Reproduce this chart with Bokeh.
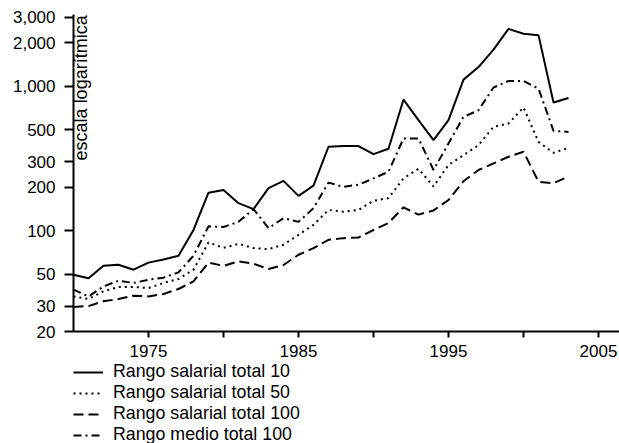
import math
from bokeh.plotting import figure
from bokeh.layouts import column
from bokeh.models import FixedTicker, Legend, LegendItem, Label, Range1d
from bokeh.embed import file_html
from bokeh.resources import INLINE

years = list(range(1970, 2004))

top10 = [49.5, 46.7, 57, 58, 53.6, 60, 63, 67, 101, 183,
         191, 155, 141, 197, 221, 174, 205, 381, 385, 385,
         339, 369, 809, 582, 424, 582, 1112, 1358, 1792, 2500,
         2312, 2260, 772, 830]

top50 = [35, 33.6, 38, 40.7, 40.7, 40, 43.4, 46.2, 53.6, 82.8,
         76, 81, 75.7, 74.5, 79.8, 93.5, 109.6, 139, 135, 139,
         161, 168, 230, 268, 202, 285, 333, 391, 523, 552,
         713, 412, 346, 375]

top100 = [29.6, 30, 32.4, 33.6, 35.4, 35, 36.4, 39.4, 44.5, 60,
          57, 61.2, 59, 54.2, 57.8, 68, 75.7, 86.3, 88.7, 89.6,
          101, 113, 145, 129, 138, 163, 220, 263, 292, 325,
          352, 218, 213, 237]

avg100 = [39, 35, 41, 45, 43.4, 45.7, 47.2, 51.4, 67, 107,
          106, 115, 141, 104, 122, 115, 143, 215, 201, 208,
          230, 256, 435, 435, 263, 402, 614, 682, 980, 1088,
          1088, 964, 491, 483]

series_names = ["Rango salarial total 10", "Rango salarial total 50",
                "Rango salarial total 100", "Rango medio total 100"]

y_ticks = [20, 30, 50, 100, 200, 300, 500, 1000, 2000, 3000]
y_tick_labels = ["20", "30", "50", "100", "200", "300", "500", "1,000", "2,000", "3,000"]
x_ticks = [1975, 1980, 1985, 1990, 1995, 2000, 2005]
x_tick_labels = ["1975", "", "1985", "", "1995", "", "2005"]

FONT = "Liberation Sans"
dash_styles = ["solid", "2 4", "10 5", "8 4 2 4"]
data = [top10, top50, top100, avg100]

p = figure(width=619, height=359, y_axis_type="log",
           x_range=Range1d(1970, 2006.4), y_range=Range1d(20, 3142),
           output_backend="svg", toolbar_location=None,
           min_border_left=73, min_border_right=0, min_border_top=14,
           min_border_bottom=27)
p.outline_line_color = None
p.xgrid.visible = False
p.ygrid.visible = False
p.background_fill_color = "white"

for vals, dash in zip(data, dash_styles):
    p.line(years, vals, line_color="black", line_width=2, line_dash=dash)

p.yaxis.ticker = FixedTicker(ticks=y_ticks, minor_ticks=[])
p.yaxis.major_label_overrides = {t: l for t, l in zip(y_ticks, y_tick_labels)}
p.xaxis.ticker = FixedTicker(ticks=x_ticks, minor_ticks=[])
p.xaxis.major_label_overrides = {t: l for t, l in zip(x_ticks, x_tick_labels)}
for ax in (p.xaxis, p.yaxis):
    ax.axis_line_width = 2
    ax.axis_line_color = "black"
    ax.major_tick_line_width = 2
    ax.major_tick_line_color = "black"
    ax.major_tick_in = 0
    ax.minor_tick_line_color = None
    ax.major_label_text_font = FONT
    ax.major_label_text_font_size = "17px"
    ax.major_label_text_color = "black"
p.yaxis.major_tick_out = 9
p.yaxis.major_label_standoff = 9
p.xaxis.major_tick_out = 6
p.xaxis.major_label_standoff = 7

lab = Label(x=1970.5, y=3100, text="escala logarítmica", angle=math.pi / 2,
            text_align="right", text_baseline="alphabetic",
            text_font=FONT, text_font_size="18px", text_color="black")
p.add_layout(lab)

# legend panel below the chart (series drawn out of view, only used as legend keys)
q = figure(width=619, height=84, x_range=Range1d(0, 1), y_range=Range1d(0, 1),
           output_backend="svg", toolbar_location=None,
           x_axis_location=None, y_axis_location=None, min_border=0)
q.outline_line_color = None
q.xgrid.visible = False
q.ygrid.visible = False
renderers = []
for vals, dash in zip(data, dash_styles):
    renderers.append(q.line(years, vals, line_color="black", line_width=2, line_dash=dash))

items = [LegendItem(label=n, renderers=[r]) for n, r in zip(series_names, renderers)]
legend = Legend(items=items, location=(0, -2), orientation="vertical",
                glyph_width=30, glyph_height=20, label_height=20, spacing=0,
                padding=0, margin=0, border_line_color=None,
                background_fill_alpha=0, label_text_font=FONT,
                label_text_font_size="17.8px", label_standoff=10,
                label_text_color="black")
q.add_layout(legend)

layout = column(p, q, spacing=0)
open("out.html", "w").write(file_html(layout, INLINE))
